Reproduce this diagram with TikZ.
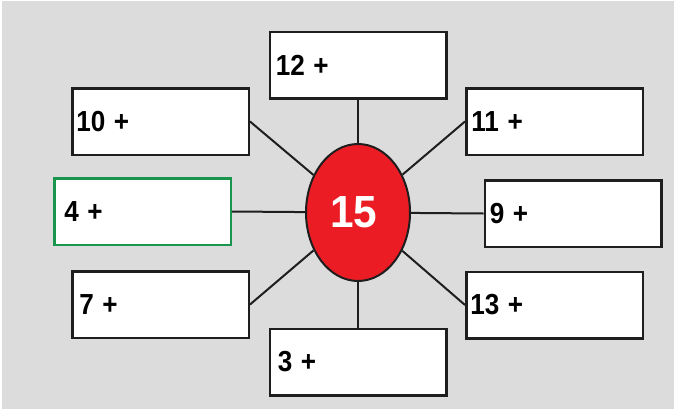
\documentclass[tikz,border=0pt]{standalone}
\usepackage{fontspec}
\setmainfont{Liberation Sans}
\usetikzlibrary{shapes.geometric}
\definecolor{bggray}{RGB}{220,220,220}
\definecolor{redfill}{RGB}{236,28,36}
\definecolor{greenedge}{RGB}{24,150,78}
\definecolor{edgeblack}{RGB}{30,30,30}
\newcommand{\lbltxt}[1]{\scalebox{0.9}[1]{#1}}
\begin{document}
\begin{tikzpicture}[x=1pt,y=-1pt,
  box/.style={draw=edgeblack, line width=2.5pt, fill=white,
    minimum width=176.5pt, minimum height=66.5pt, inner sep=0pt,
    text width=168.5pt, align=left,
    font=\bfseries\fontsize{29}{29}\selectfont, anchor=center},
  greenbox/.style={box, draw=greenedge},
  conn/.style={line width=2pt, draw=edgeblack},
  hub/.style={ellipse, draw=edgeblack, line width=2pt, fill=redfill,
    minimum width=104pt, minimum height=137pt, inner sep=0pt,
    text=white, font=\bfseries\fontsize{45}{45}\selectfont}]
\useasboundingbox (0,0) rectangle (677,413);
\fill[white] (0,0) rectangle (677,413);
\fill[bggray] (2,1) rectangle (674,409);

\node[box] (b12) at (358,65) {\hspace*{2pt}\lbltxt{12 +}};
\node[box] (b10) at (160.5,121.5) {\lbltxt{10 +}};
\node[box] (b11) at (554.5,121.5) {\hspace*{1pt}\lbltxt{11 +}};
\node[greenbox] (b4) at (142.5,211.5) {\hspace*{6pt}\lbltxt{4 +}};
\node[box] (b9) at (573,213.5) {\hspace*{1pt}\lbltxt{9 +}};
\node[box] (b7) at (160.5,304.5) {\hspace*{3pt}\lbltxt{7 +}};
\node[box] (b13) at (554.5,305) {\lbltxt{13 +}};
\node[box] (b3) at (358,362) {\hspace*{4pt}\lbltxt{3 +}};

\node[hub] (c) at (358,212.5) {\scalebox{0.94}[1]{15}\kern8pt};

\draw[conn] (c) -- (b12.south);
\draw[conn] (c) -- (b3.north);
\draw[conn] (c) -- (b10.east);
\draw[conn] (c) -- (b11.west);
\draw[conn] (c) -- (b7.east);
\draw[conn] (c) -- (b13.west);
\draw[conn] (c) -- (b4.east);
\draw[conn] (c) -- (b9.west);
\end{tikzpicture}
\end{document}
